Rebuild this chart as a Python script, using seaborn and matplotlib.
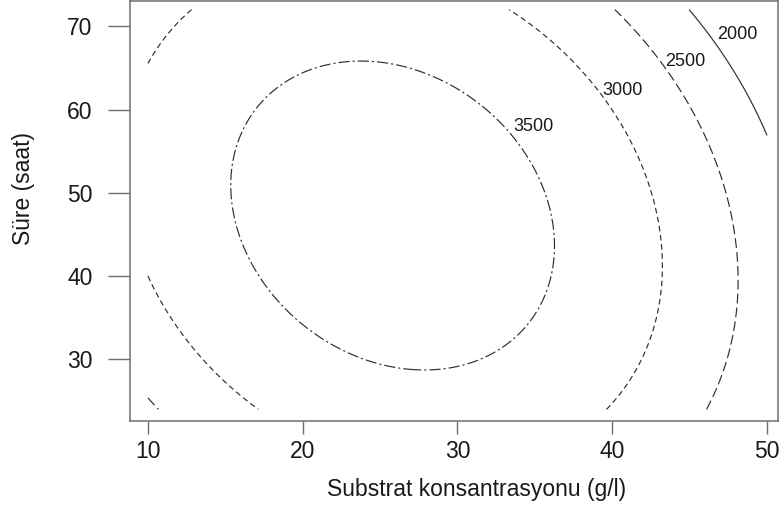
import numpy as np
import matplotlib
matplotlib.use("Agg")
import matplotlib.pyplot as plt
import seaborn as sns

# Fitted second-order response surface:
# yield = b0 + b1*S + b2*t + b11*S^2 + b22*t^2 + b12*S*t
coef_names = ["b0", "b1", "b2", "b11", "b22", "b12"]
coef_values = [-622.273, 166.015, 95.6548, -2.67439, -0.850172, -0.591518]

# experimental region covered by the design
substrate_range = (10, 50)
time_range = (24, 72)

levels = [2000, 2500, 3000, 3500]
level_styles = ["-", (0, (7, 3)), (0, (4, 2.6)), (0, (8, 2.2, 1.5, 2.2))]
label_x = [48.06, 44.70, 40.69, 34.94]
label_y = [69.04, 65.80, 62.30, 58.00]

x_ticks = [10, 20, 30, 40, 50]
y_ticks = [30, 40, 50, 60, 70]
x_range = (8.84, 50.71)
y_range = (22.6, 73.1)

sns.set_theme(style="white")
plt.rcParams["font.family"] = ["Liberation Sans", "DejaVu Sans"]
plt.rcParams["lines.scale_dashes"] = False

b = dict(zip(coef_names, coef_values))
S, T = np.meshgrid(np.linspace(*substrate_range, 400), np.linspace(*time_range, 400))
Z = (b["b0"] + b["b1"] * S + b["b2"] * T + b["b11"] * S ** 2
     + b["b22"] * T ** 2 + b["b12"] * S * T)

fig = plt.figure(figsize=(7.8, 5.12), dpi=100)
ax = fig.add_axes([130 / 780, 1 - 421 / 512, 648 / 780, 421 / 512 - 0.001])

cs = ax.contour(S, T, Z, levels=levels, colors="#2e2e2e",
                linewidths=0.85, linestyles=level_styles)

for lv, lx, ly in zip(levels, label_x, label_y):
    ax.text(lx, ly, f"{lv}", fontsize=13, color="#1a1a1a",
            ha="center", va="center")

ax.set_xlim(*x_range)
ax.set_ylim(*y_range)
ax.set_xticks(x_ticks)
ax.set_yticks(y_ticks)

spine_color = "#6e6e6e"
for sp in ax.spines.values():
    sp.set_color(spine_color)
    sp.set_linewidth(1.1)
ax.tick_params(axis="y", which="major", left=True, length=16, width=1,
               color=spine_color, pad=11, labelsize=16.5, labelcolor="#1a1a1a")
ax.tick_params(axis="x", which="major", bottom=True, length=9.5, width=1,
               color=spine_color, pad=4, labelsize=16.5, labelcolor="#1a1a1a")

ax.set_xlabel("Substrat konsantrasyonu (g/l)", fontsize=16.5, color="#1a1a1a")
ax.set_ylabel("Süre (saat)", fontsize=16.5, color="#1a1a1a")
ax.xaxis.set_label_coords(0.5355, -0.1354)
ax.yaxis.set_label_coords(-0.1466, 0.5534)

fig.savefig("out.png", dpi=100)
